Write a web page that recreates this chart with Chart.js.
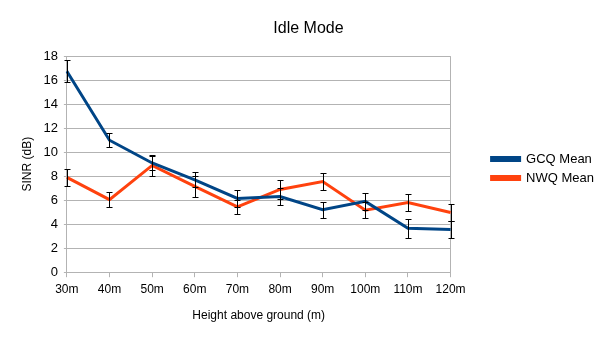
<!DOCTYPE html>
<html>
<head>
<meta charset="utf-8">
<script src="https://cdn.jsdelivr.net/npm/chart.js@4"></script>
<style>
html,body{margin:0;padding:0;background:#fff;}
#wrap{width:604px;height:340px;}
</style>
</head>
<body>
<div id="wrap"><canvas id="c" width="604" height="340"></canvas></div>
<script>
const categories = ['30m','40m','50m','60m','70m','80m','90m','100m','110m','120m'];
const gcqMean = [16.75, 11.0, 9.1, 7.7, 6.15, 6.3, 5.2, 5.9, 3.67, 3.55];
const gcqErr  = [0.9, 0.57, 0.6, 0.62, 0.7, 0.7, 0.68, 0.7, 0.8, 0.72];
const nwqMean = [7.9, 6.05, 8.9, 7.15, 5.45, 6.9, 7.55, 5.17, 5.8, 4.97];
const nwqErr  = [0.74, 0.6, 0.85, 0.9, 0.6, 0.78, 0.72, 0.68, 0.74, 0.7];
const yTicks = [0,2,4,6,8,10,12,14,16,18];

const FONT = 'Liberation Sans, Arial, sans-serif';
const GRID = '#b3b3b3';

const errorBars = {
  id: 'errorBars',
  afterDatasetsDraw(chart) {
    const ctx = chart.ctx;
    const ys = chart.scales.y;
    ctx.save();
    ctx.strokeStyle = '#000';
    ctx.lineWidth = 1;
    chart.data.datasets.forEach((ds, di) => {
      const meta = chart.getDatasetMeta(di);
      meta.data.forEach((pt, i) => {
        const v = ds.data[i], e = ds.errors[i];
        const x = Math.round(pt.x) + 0.5;
        const yt = Math.round(ys.getPixelForValue(v + e)) + 0.5;
        const yb = Math.round(ys.getPixelForValue(v - e)) + 0.5;
        const cw = 3;
        ctx.beginPath();
        ctx.moveTo(x, yt); ctx.lineTo(x, yb);
        ctx.moveTo(x - cw, yt); ctx.lineTo(x + cw, yt);
        ctx.moveTo(x - cw, yb); ctx.lineTo(x + cw, yb);
        ctx.stroke();
      });
    });
    ctx.restore();
  }
};

new Chart(document.getElementById('c'), {
  type: 'line',
  data: {
    labels: categories,
    datasets: [
      { label: 'GCQ Mean', data: gcqMean, errors: gcqErr, borderColor: '#004586', backgroundColor: '#004586', borderWidth: 3, pointRadius: 0, tension: 0 },
      { label: 'NWQ Mean', data: nwqMean, errors: nwqErr, borderColor: '#ff420e', backgroundColor: '#ff420e', borderWidth: 3, pointRadius: 0, tension: 0 }
    ]
  },
  plugins: [errorBars],
  options: {
    responsive: false,
    animation: false,
    layout: { padding: { left: 13, right: 0, top: 10, bottom: 13 } },
    plugins: {
      title: { display: true, text: 'Idle Mode', color: '#000', font: { family: FONT, size: 16, weight: 'normal' }, padding: { top: 9, bottom: 18 } },
      legend: {
        position: 'right',
        labels: { boxWidth: 28, boxHeight: 3, color: '#000', font: { family: FONT, size: 13 }, padding: 6 }
      },
      tooltip: { enabled: false }
    },
    scales: {
      x: {
        offset: false,
        grid: {
          drawOnChartArea: true,
          color: (c) => c.index === categories.length - 1 ? GRID : 'rgba(0,0,0,0)',
          tickColor: GRID, tickLength: 5
        },
        border: { color: GRID },
        ticks: { color: '#000', font: { family: FONT, size: 12 }, maxRotation: 0, padding: 5 },
        title: { display: true, text: 'Height above ground (m)', color: '#000', font: { family: FONT, size: 12 }, padding: { top: 7 } }
      },
      y: {
        min: 0, max: 18,
        afterBuildTicks: (s) => { s.ticks = yTicks.map(v => ({ value: v })); },
        grid: { color: GRID, tickColor: GRID, tickLength: 3 },
        border: { color: GRID },
        ticks: { color: '#000', font: { family: FONT, size: 13 }, padding: 6 },
        title: { display: true, text: 'SINR (dB)', color: '#000', font: { family: FONT, size: 12 }, padding: { top: 7, bottom: 3 } }
      },
      gap: {
        display: false,
        position: 'right',
        min: 0, max: 18,
        afterFit: (s) => { s.width = 35; }
      }
    }
  }
});
</script>
</body>
</html>
